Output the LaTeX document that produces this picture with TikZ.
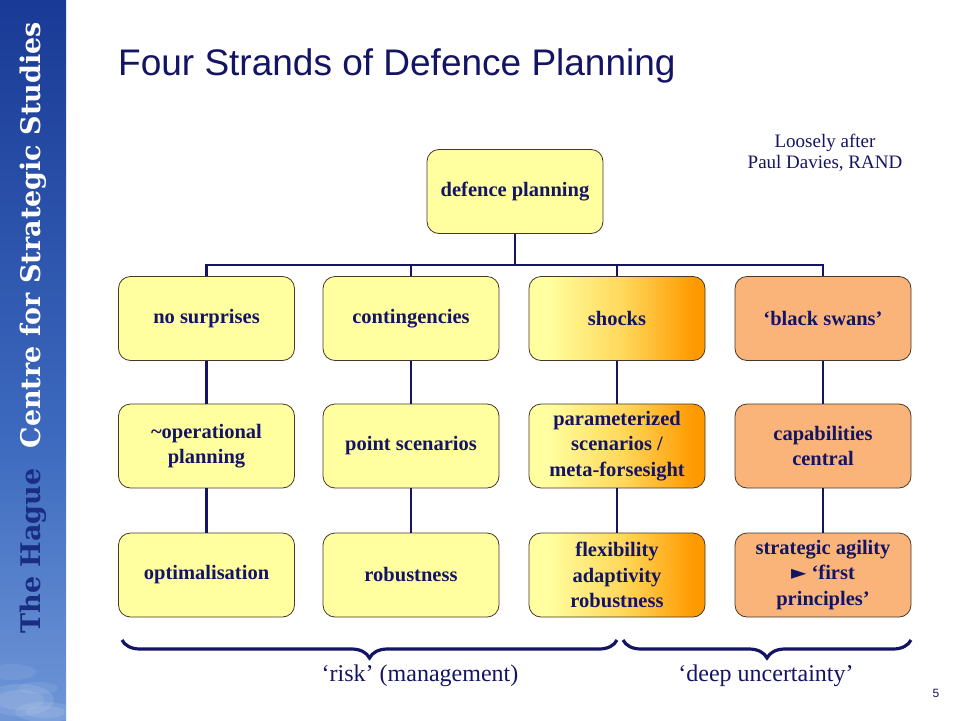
\documentclass[tikz,border=0pt]{standalone}
\usepackage{fontspec}
\setmainfont{Liberation Serif}
\newfontfamily\titlefont{Liberation Sans}
\newfontfamily\bannerfont{DejaVu Serif}
\usetikzlibrary{decorations.pathreplacing,shadings}
\definecolor{navy}{RGB}{20,20,100}
\definecolor{boxyellow}{RGB}{255,255,160}
\definecolor{boxorange}{RGB}{250,180,122}
\definecolor{gradorange}{RGB}{255,153,0}
\definecolor{gradmid}{RGB}{255,215,90}
\definecolor{boxline}{RGB}{70,55,40}
\definecolor{bannertop}{RGB}{25,58,150}
\definecolor{bannermid}{RGB}{60,105,190}
\definecolor{bannerbot}{RGB}{110,150,215}
\definecolor{haguecol}{RGB}{25,45,130}
\pgfdeclarehorizontalshading{shockgrad}{100bp}{color(0bp)=(boxyellow); color(30bp)=(boxyellow); color(52bp)=(gradmid); color(72bp)=(gradorange); color(100bp)=(gradorange)}
\pgfdeclareverticalshading{bannergrad}{100bp}{color(0bp)=(bannerbot); color(25bp)=(bannerbot); color(45bp)=(bannermid); color(75bp)=(bannertop); color(100bp)=(bannertop)}
\tikzset{
  box/.style={draw=boxline, line width=0.8pt, rounded corners=12pt,
    minimum width=176pt, minimum height=84pt, align=center,
    font=\bfseries\fontsize{20.5}{25.5}\selectfont, text=navy, inner sep=2pt},
  yel/.style={box, fill=boxyellow},
  ora/.style={box, fill=boxorange},
  grad/.style={box, shading=shockgrad},
  conn/.style={draw=navy, line width=2.8pt},
  bracestyle/.style={draw=navy, line width=3.2pt, decorate,
    decoration={brace, mirror, amplitude=18pt}},
  note/.style={text=navy, font=\fontsize{19}{21}\selectfont, align=center},
  lab/.style={text=navy, font=\fontsize{24}{26}\selectfont}
}
\begin{document}
\begin{tikzpicture}[x=1pt,y=-1pt]
\useasboundingbox (0,0) rectangle (960,720);
\fill[white] (0,0) rectangle (960,720);
% banner
\shade[shading=bannergrad] (0,0) rectangle (66,720);
\begin{scope}
\clip (0,0) rectangle (66,720);
\foreach \cx/\cy/\rx/\ry/\op in {20/700/34/16/0.10, 20/700/24/10/0.10, 45/712/30/10/0.10, 45/712/20/6/0.10, 12/672/24/8/0.08, 38/688/20/6/0.08} {
  \fill[white, opacity=\op] (\cx,\cy) ellipse ({\rx pt} and {\ry pt});
}
\end{scope}
\node[rotate=90, anchor=west, font=\bannerfont\bfseries\fontsize{27}{30}\selectfont] (banner) at (33,637)
  {\textcolor{haguecol}{The Hague}\hspace{20pt}\textcolor{white}{Centre for Strategic Studies}};
% title
\node[anchor=base west, inner sep=0pt, text=navy, font=\titlefont\fontsize{37}{40}\selectfont] (title) at (118,75) {Four Strands of Defence Planning};
% note
\node[note] (loosely) at (825,153) {Loosely after\\Paul Davies, RAND};
% boxes
\node[yel] (top) at (515,191.5) {defence planning};
\node[yel] (a1) at (206.5,318.5) {no surprises};
\node[yel] (a2) at (411,318.5) {contingencies};
\node[grad] (a3) at (617,318.5) {shocks};
\node[ora] (a4) at (823,318.5) {‘black swans’};
\node[yel] (b1) at (206.5,446) {\textasciitilde operational\\planning};
\node[yel] (b2) at (411,446) {point scenarios};
\node[grad] (b3) at (617,446) {parameterized\\scenarios /\\meta-forsesight};
\node[ora] (b4) at (823,446) {capabilities\\central};
\node[yel] (c1) at (206.5,575) {optimalisation};
\node[yel] (c2) at (411,575) {robustness};
\node[grad] (c3) at (617,575) {flexibility\\adaptivity\\robustness};
\node[ora] (c4) at (823,575) {strategic agility\\{\fontspec{DejaVu Sans}\fontsize{20}{20}\selectfont ►} ‘first\\principles’};
% connectors
\coordinate (bus) at (515,265);
\draw[conn] (top.south) -- (bus);
\draw[conn] (a1.north) |- (bus) -| (a4.north);
\draw[conn] (a2.north) -- (a2.north |- bus);
\draw[conn] (a3.north) -- (a3.north |- bus);
\foreach \i in {1,2,3,4} {
  \draw[conn] (a\i.south) -- (b\i.north);
  \draw[conn] (b\i.south) -- (c\i.north);
}
% braces
\coordinate (br1l) at (122,640);
\coordinate (br1r) at (617,640);
\coordinate (br2l) at (623,640);
\coordinate (br2r) at (911,640);
\draw[bracestyle] (br1l) -- (br1r);
\draw[bracestyle] (br2l) -- (br2r);
\node[lab] (risk) at (420,676) {‘risk’ (management)};
\node[lab] (deep) at (766,676) {‘deep uncertainty’};
% page number
\node[text=navy, font=\titlefont\fontsize{12}{14}\selectfont] (pnum) at (936,693) {5};
\end{tikzpicture}
\end{document}
